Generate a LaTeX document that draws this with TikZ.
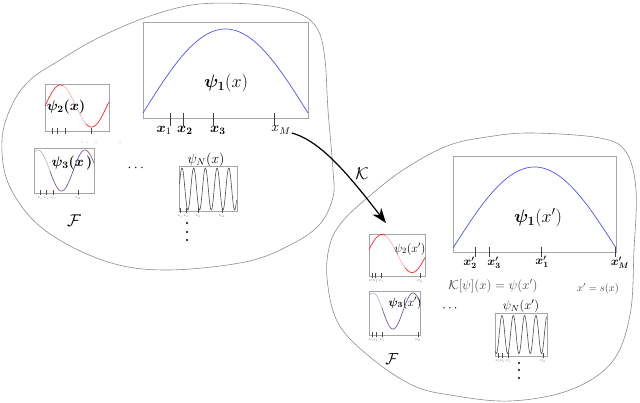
\RequirePackage{fix-cm}
\documentclass[tikz,border=0pt]{standalone}
\usepackage{amsmath,bm}
\usetikzlibrary{arrows.meta}
\newcommand\myfs[1]{\fontsize{#1}{#1}\selectfont}
\definecolor{purp}{RGB}{125,85,155}
\definecolor{bluec}{RGB}{80,80,245}
\begin{document}
\begin{tikzpicture}[x=1pt,y=-1pt,
  blob/.style={draw=black!45,line width=0.6pt},
  frame/.style={draw=black!35,line width=0.8pt},
  bigtick/.style={draw=black!75,line width=0.6pt},
  smalltick/.style={draw=black!70,line width=0.4pt},
  lbl/.style={inner sep=0pt},
  tinylbl/.style={inner sep=0pt,font=\myfs{3.2},text=black!70},
  dotmark/.style={fill=black,draw=none},
  psicurve/.style={line width=0.7pt},
  karrow/.style={line width=1.2pt,-{Stealth[length=15pt,width=11pt]}},
]
\useasboundingbox (0,0) rectangle (640,402);

% ---------- blobs ----------
\draw[blob] plot[smooth cycle,tension=0.6] coordinates {
  (200,4) (262,5) (300,14) (318,30) (325,60) (328,110) (333,170) (333,197)
  (320,224) (292,244) (245,262) (163,270) (102,260) (42,228) (9,185)
  (2,140) (12,105) (30,80) (60,60) (100,37) (150,16)};
\draw[blob] plot[smooth cycle,tension=0.6] coordinates {
  (531,133) (600,138) (626,152) (636,190) (634,250) (630,315) (612,362)
  (570,390) (510,401) (450,395) (412,385) (370,357) (338,323) (327,278)
  (330,244) (342,222) (366,199) (403,170) (447,146) (487,137)};

% ---------- left family ----------
% psi_1
\draw[frame] (143,22) rectangle (308,118);
\draw[bluec,psicurve] plot[domain=0:180,samples=80] ({143+0.916667*\x},{113-84*sin(\x)});
\node[lbl,font=\myfs{18}] (p1) at (226,83) {$\bm{\psi_1}(x)$};
\foreach \t in {170,183,213,274} \draw[bigtick] (\t,113) -- (\t,126);
\node[lbl,font=\myfs{14}] (x1) at (164,130) {$\bm{x}_1$};
\node[lbl,font=\myfs{14}] (x2) at (185,130) {$\bm{x_2}$};
\node[lbl,font=\myfs{14}] (x3) at (218,130) {$\bm{x_3}$};
\node[lbl,font=\myfs{14}] (xM) at (281,130) {$x_M$};

% psi_2
\draw[frame] (45,84) rectangle (109,131);
\draw[red!85,psicurve] plot[domain=45:63,samples=25] (\x,{106-21*sin(5.80645*(\x-45))});
\draw[red!30,psicurve] plot[domain=63:86,samples=25] (\x,{106-21*sin(5.80645*(\x-45))});
\draw[red!85,psicurve] plot[domain=86:109,samples=25] (\x,{106-21*sin(5.80645*(\x-45))});
\node[lbl,font=\myfs{14}] (p2) at (66,107) {$\bm{\psi_2(x)}$};
\foreach \t in {52,57,65,91} \draw[smalltick] (\t,128) -- (\t,134);
\foreach \t in {82,87,96,120} \fill[black!55] (\t,142) circle (0.5);

% psi_3
\draw[frame] (34,148) rectangle (94,193);
\draw[purp!45,psicurve] plot[domain=34:50,samples=25] (\x,{170.5-20.5*cos(7.65957*(\x-38))});
\draw[purp,psicurve] plot[domain=50:94,samples=50] (\x,{170.5-20.5*cos(7.65957*(\x-38))});
\node[lbl,font=\myfs{14}] (p3) at (72,163) {$\bm{\psi_3(x\,)}$};
\foreach \t in {40,46,53,78} \draw[smalltick] (\t,190) -- (\t,195);
\node[tinylbl] (t31) at (40,198) {$x_1$};
\node[tinylbl] (t32) at (46,198) {$x_2$};
\node[tinylbl] (t33) at (53,198) {$x_3$};
\node[tinylbl] (t3M) at (78,198) {$x_M$};

% dots
\node[lbl,font=\myfs{14}] (hd1) at (137,168) {$\cdots$};

% psi_N
\draw[frame] (179,166) rectangle (237,211);
\draw[black!70,line width=0.6pt] plot[domain=179.5:236.5,samples=200] (\x,{189-21*cos(30.7692*(\x-182))});
\node[lbl,font=\myfs{14}] (pN) at (206,160) {$\psi_N(x)$};
\foreach \t in {180,186,198,222} \draw[smalltick] (\t,208) -- (\t,213);
\node[tinylbl] (tN1) at (180,216) {$x_1$};
\node[tinylbl] (tN2) at (186,216) {$x_2$};
\node[tinylbl] (tN3) at (198,216) {$x_3$};
\node[tinylbl] (tNM) at (222,216) {$x_M$};
\foreach \yy in {223,232,240} \fill[dotmark] (187,\yy) circle (1.1);

\node[lbl,font=\myfs{17}] (F1) at (74,221) {$\mathcal{F}$};

% ---------- arrow ----------
\coordinate (kend) at (386,223);
\draw[karrow] (xM.east) ++(1,3) .. controls +(30,8) and +(-35,-45) .. (kend);
\node[lbl,font=\myfs{17}] (K) at (362,174) {$\mathcal{K}$};

% ---------- right family ----------
\draw[frame] (453,156) rectangle (616,252);
\draw[bluec,psicurve] plot[domain=0:180,samples=80] ({453+0.905556*\x},{248-81*sin(\x)});
\node[lbl,font=\myfs{18}] (q1) at (538,218) {$\bm{\psi_1}(x')$};
\foreach \t in {475,489,541,615} \draw[bigtick] (\t,247) -- (\t,257);
\node[lbl,font=\myfs{12}] (y2) at (470,263) {$\bm{x'_2}$};
\node[lbl,font=\myfs{12}] (y3) at (494,263) {$\bm{x'_3}$};
\node[lbl,font=\myfs{12}] (y1) at (542,262) {$\bm{x'_1}$};
\node[lbl,font=\myfs{12}] (yM) at (620,263) {$\bm{x'_M}$};

\node[lbl,font=\myfs{13},text=black!75] (eqK) at (493,286) {$\mathcal{K}[\psi](x) = \psi(x')$};
\node[lbl,font=\myfs{10.5},text=black!75] (eqs) at (598,289) {$x' = s(x)$};

% psi_2'
\draw[frame] (369,234) rectangle (425,276);
\draw[red!85,psicurve] plot[domain=369:385,samples=25] (\x,{253.5-19*sin(6*(\x-367))});
\draw[red!30,psicurve] plot[domain=385:405,samples=25] (\x,{253.5-19*sin(6*(\x-367))});
\draw[red!85,psicurve] plot[domain=405:425,samples=25] (\x,{253.5-19*sin(6*(\x-367))});
\node[lbl,font=\myfs{12}] (q2) at (410,249) {$\psi_2(x')$};
\foreach \t in {372,375,381,420} \draw[smalltick] (\t,273) -- (\t,278);
\node[tinylbl] (r21) at (371,281) {$x_1'$};
\node[tinylbl] (r22) at (375.5,281) {$x_2'$};
\node[tinylbl] (r23) at (381,281) {$x_3'$};
\node[tinylbl] (r2M) at (420,281) {$x_M'$};

% psi_3'
\draw[frame] (369,291) rectangle (420,335);
\draw[purp!45,psicurve] plot[domain=369:382,samples=25] (\x,{311-18*cos(9*(\x-373))});
\draw[purp,psicurve] plot[domain=382:420,samples=50] (\x,{311-18*cos(9*(\x-373))});
\node[lbl,font=\myfs{12}] (q3) at (405,303) {$\bm{\psi_3}(x')$};
\foreach \t in {372,376,382,418} \draw[smalltick] (\t,332) -- (\t,337);
\node[tinylbl] (r31) at (371,340) {$x_1'$};
\node[tinylbl] (r32) at (375.5,340) {$x_2'$};
\node[tinylbl] (r33) at (382,340) {$x_3'$};
\node[tinylbl] (r3M) at (418,340) {$x_M'$};

\node[lbl,font=\myfs{13}] (hd2) at (451,309) {$\cdots$};

% psi_N'
\draw[frame] (495,313) rectangle (547,356);
\draw[black!70,line width=0.6pt] plot[domain=495.5:546.5,samples=200] (\x,{334.5-19*cos(31.8584*(\x-502))});
\node[lbl,font=\myfs{12.5}] (qN) at (521,306) {$\psi_N(x')$};
\foreach \t in {498,502,508,543} \draw[smalltick] (\t,353) -- (\t,358);
\node[tinylbl] (rN1) at (497.5,361) {$x_1'$};
\node[tinylbl] (rN2) at (502,361) {$x_2'$};
\node[tinylbl] (rN3) at (508,361) {$x_3'$};
\node[tinylbl] (rNM) at (543,361) {$x_M'$};
\foreach \yy in {363,370,378} \fill[dotmark] (519,\yy) circle (1.1);

\node[lbl,font=\myfs{16}] (F2) at (392,359) {$\mathcal{F}$};
\end{tikzpicture}
\end{document}
